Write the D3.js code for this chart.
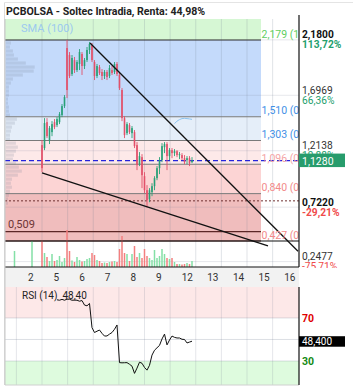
<!DOCTYPE html>
<html>
<head>
<meta charset="utf-8">
<script src="https://cdn.jsdelivr.net/npm/d3@7"></script>
<style>
  body { margin: 0; background: #fff; }
  svg { display: block; font-family: Roboto, "Noto Sans", sans-serif; }
</style>
</head>
<body>
<div id="chart"></div>
<script>
// ---- data ----
const title = "PCBOLSA - Soltec Intradia, Renta: 44,98%";
const days = ["2", "5", "6", "7", "8", "9", "12", "13", "14", "15", "16"];

// intraday candles [open, high, low, close]
const candles = [
  [1.263, 1.306, 1.027, 1.062], [1.237, 1.498, 1.219, 1.455], [1.463, 1.498, 1.324, 1.341],
  [1.306, 1.429, 1.272, 1.411], [1.376, 1.472, 1.341, 1.446], [1.463, 1.490, 1.402, 1.420],
  [1.437, 1.507, 1.420, 1.490], [1.463, 1.551, 1.446, 1.533], [1.525, 1.621, 1.507, 1.603],
  [1.603, 1.699, 1.586, 1.682], [2.109, 2.180, 1.673, 1.743], [2.048, 2.074, 1.847, 1.865],
  [1.882, 2.048, 1.865, 2.022], [2.004, 2.031, 1.891, 1.917], [1.917, 2.004, 1.900, 1.987],
  [1.970, 2.100, 1.917, 2.074], [2.057, 2.074, 1.874, 1.952], [1.952, 2.022, 1.926, 2.004],
  [2.004, 2.118, 1.987, 2.092], [2.092, 2.162, 2.057, 2.144], [2.135, 2.153, 1.987, 2.004],
  [1.987, 2.004, 1.830, 1.865], [1.865, 1.970, 1.847, 1.952], [1.943, 1.961, 1.874, 1.891],
  [1.900, 1.926, 1.830, 1.865], [1.865, 1.917, 1.839, 1.900], [1.900, 1.917, 1.830, 1.856],
  [1.865, 1.961, 1.847, 1.935], [1.917, 1.952, 1.874, 1.891], [1.900, 1.987, 1.882, 1.970],
  [1.970, 1.987, 1.865, 1.882], [1.874, 1.900, 1.743, 1.760], [1.743, 1.760, 1.472, 1.498],
  [1.498, 1.516, 1.324, 1.350], [1.367, 1.463, 1.350, 1.446], [1.437, 1.455, 1.359, 1.376],
  [1.367, 1.429, 1.324, 1.411], [1.376, 1.394, 1.237, 1.254], [1.263, 1.289, 1.045, 1.088],
  [1.097, 1.202, 1.080, 1.167], [1.158, 1.184, 0.888, 1.001], [0.992, 1.027, 0.844, 0.870],
  [0.870, 0.914, 0.722, 0.783], [0.792, 0.888, 0.765, 0.870], [0.853, 0.931, 0.818, 0.905],
  [0.905, 0.992, 0.870, 0.975], [0.975, 1.080, 0.957, 1.062], [1.062, 1.158, 1.010, 1.132],
  [1.132, 1.280, 1.114, 1.254], [1.245, 1.289, 1.193, 1.272], [1.272, 1.289, 1.045, 1.167],
  [1.167, 1.237, 1.132, 1.219], [1.219, 1.237, 1.149, 1.193], [1.193, 1.228, 1.167, 1.210],
  [1.210, 1.219, 1.158, 1.176], [1.176, 1.202, 1.141, 1.184], [1.176, 1.193, 1.132, 1.149],
  [1.149, 1.176, 1.097, 1.114], [1.132, 1.167, 1.097, 1.149], [1.149, 1.167, 1.080, 1.106],
  [1.114, 1.158, 1.106, 1.128]
];

// volume (thousands), first entry belongs to slot -11
const volumeStart = -11;
const volumes = [
  160, 0, 0, 0, 0, 0, 0, 260, 0, 0, 0,
  265, 140, 100, 60, 130, 60, 70, 110, 50, 90,
  370, 160, 65, 50, 100, 70, 55, 60, 80, 90,
  140, 120, 70, 60, 40, 45, 40, 50, 55, 60,
  50, 180, 310, 140, 130, 60, 130, 210, 100, 140,
  90, 180, 110, 90, 70, 170, 90, 110, 180, 130,
  90, 80, 90, 50, 30, 30, 25, 30, 40, 30, 60
];

// RSI(14), first value belongs to candle 6
const rsiStart = 6;
const rsiValues = [
  86.9, 86.5, 87.3, 86.5, 87.5, 87.4, 86.5, 86.6, 86.5, 85.6, 86.2, 82.0, 81.3, 83.5,
  61.0, 56.5, 57.7, 58.8, 55.7, 53.2, 53.3, 55.0, 56.5, 59.5, 63.5,
  28.5, 28.3, 28.4, 28.5, 27.0, 25.2, 18.5, 23.4, 28.9, 27.9, 24.0, 21.5, 26.0,
  35.5, 40.0, 42.3, 44.5, 50.5, 55.0, 45.0, 49.5, 53.2, 52.0, 51.4, 51.4, 50.2,
  50.0, 46.8, 47.6, 48.4
];

// SMA(100), first value belongs to candle 53
const smaStart = 53;
const smaValues = [1.450, 1.472, 1.485, 1.494, 1.496, 1.494, 1.491, 1.487];

// volume profile [price, volume]
const profile = [
  [2.153, 15], [2.118, 12], [2.083, 21], [2.048, 24], [2.013, 36], [1.978, 60],
  [1.943, 87], [1.908, 84], [1.874, 51], [1.839, 21], [1.804, 15], [1.769, 9],
  [1.734, 9], [1.699, 9], [1.664, 6], [1.629, 6], [1.594, 9], [1.559, 9],
  [1.524, 12], [1.489, 33], [1.455, 27], [1.420, 18], [1.385, 15], [1.350, 12],
  [1.315, 12], [1.280, 30], [1.245, 36], [1.210, 30], [1.176, 24], [1.141, 21],
  [1.106, 30], [1.071, 39], [1.036, 48], [1.001, 36], [0.966, 18], [0.931, 15],
  [0.896, 18], [0.861, 12], [0.826, 9], [0.792, 6], [0.757, 6]
];

const fibLevels = [2.179, 1.510, 1.303, 1.096, 0.840, 0.427];
const fibRatios = ["1,000", "0,618", "0,500", "0,382", "0,236", "0,000"];
const fibEnd = 87.6; // slot where the fibonacci drawing stops
const supportLevel = 0.509;
const dottedLevel = 0.777;
const lastPrice = 1.128;
const lastRsi = 48.40;

const priceTicks = [2.18, 1.6969, 1.2138, 0.722, 0.2477];
const pctTicks = ["113,72%", "66,36%", "19,88%", "-29,21%", "-75,71%"];

// trend lines [slot, price]
const trendDown = [[19.2, 2.153], [102.4, 0.338]];
const trendLow = [[0, 1.021], [90.4, 0.384]];

// ---- layout ----
const W = 353, H = 390;
const plot = { left: 5, right: 299, top: 19 };
const vol = { top: 241, bottom: 267 };
const rsiBox = { top: 287, bottom: 385 };
const slotsPerDay = 10.25, firstDaySlot = -10.25;

const green = "#27a077", red = "#e2506a";
const volGreen = "#84e0a6", volRed = "#f47f7f";
const fmt = (v, d) => v.toFixed(d).replace(".", ",");

const svg = d3.select("#chart").append("svg").attr("width", W).attr("height", H);
const defs = svg.append("defs");

// scales
const x = d3.scaleLinear().domain([-14.8, 102.8]).range([plot.left, plot.right]);
const y = d3.scaleLinear().domain([fibLevels[0], fibLevels[fibLevels.length - 1]]).range([40, vol.top]);
const vy = d3.scaleLinear().domain([0, 260]).range([vol.bottom, vol.top]);
const ry = d3.scaleLinear().domain([7.7, 98.8]).range([rsiBox.bottom, rsiBox.top]);
const pw = d3.scaleLinear().domain([0, 100]).range([0, 33]);

const daySlots = days.map((d, k) => firstDaySlot + k * slotsPerDay);

svg.append("rect").attr("width", W).attr("height", H).attr("fill", "#fff");

// frame
svg.append("line").attr("x1", 4.5).attr("x2", 4.5).attr("y1", 2.5).attr("y2", rsiBox.bottom)
  .attr("stroke", "#dcdcdc");
svg.append("line").attr("x1", 4.5).attr("x2", W).attr("y1", 2.5).attr("y2", 2.5)
  .attr("stroke", "#e4e4e4");

// title
svg.append("text").attr("x", 6).attr("y", 15)
  .attr("font-size", 10.6).attr("font-weight", "bold").attr("fill", "#222")
  .text(title);

// x-axis strip
svg.append("rect").attr("x", plot.left).attr("y", vol.bottom)
  .attr("width", plot.right - plot.left).attr("height", rsiBox.top - vol.bottom)
  .attr("fill", "#f2f2f2");

// ---- main panel ----
defs.append("clipPath").attr("id", "mainClip").append("rect")
  .attr("x", plot.left).attr("y", plot.top)
  .attr("width", plot.right - plot.left).attr("height", vol.bottom + 26 - plot.top);
const main = svg.append("g").attr("clip-path", "url(#mainClip)");

// fibonacci bands
const bandColors = ["#d6f7d4", "#c4dafb", "#e5eef9", "#fde9e9", "#fcd4d4", "#f0bdbd"];
const bandEdges = [y.invert(plot.top), ...fibLevels];
main.selectAll("rect.band")
  .data(d3.pairs(bandEdges))
  .join("rect")
  .attr("class", "band")
  .attr("x", plot.left)
  .attr("width", x(fibEnd) - plot.left)
  .attr("y", d => y(d[0]))
  .attr("height", d => y(d[1]) - y(d[0]))
  .attr("fill", (d, i) => bandColors[i]);

// grid
main.selectAll("line.vgrid")
  .data(daySlots.slice(1))
  .join("line")
  .attr("x1", d => x(d)).attr("x2", d => x(d))
  .attr("y1", plot.top).attr("y2", vol.bottom)
  .attr("stroke", "rgba(120,130,150,0.22)");
main.selectAll("line.hgrid")
  .data(priceTicks)
  .join("line")
  .attr("x1", plot.left).attr("x2", plot.right)
  .attr("y1", d => y(d)).attr("y2", d => y(d))
  .attr("stroke", "rgba(120,130,150,0.18)");

// volume profile
const binH = Math.abs(y(profile[1][0]) - y(profile[0][0]));
main.selectAll("rect.profile")
  .data(profile)
  .join("rect")
  .attr("x", plot.left + 1)
  .attr("y", d => y(d[0]) - binH / 2 + 0.4)
  .attr("width", d => pw(d[1]))
  .attr("height", binH - 0.8)
  .attr("fill", "rgba(120,130,150,0.2)");

// fibonacci lines
const fibStroke = ["#333", "#7a7a7a", "#7a7a7a", "#7a7a7a", "#7a7a7a", "#5a2a2a"];
main.selectAll("line.fib")
  .data(fibLevels)
  .join("line")
  .attr("x1", plot.left).attr("x2", x(fibEnd))
  .attr("y1", d => y(d)).attr("y2", d => y(d))
  .attr("stroke", (d, i) => fibStroke[i]).attr("stroke-width", 1);

// support 0,509
main.append("line")
  .attr("x1", plot.left).attr("x2", x(fibEnd))
  .attr("y1", y(supportLevel)).attr("y2", y(supportLevel))
  .attr("stroke", "#5b2626").attr("stroke-width", 1.2);
main.append("text")
  .attr("x", 8).attr("y", y(supportLevel) - 4)
  .attr("font-size", 11).attr("fill", "#6e3535")
  .text(fmt(supportLevel, 3));

// dotted level
main.append("line")
  .attr("x1", plot.left).attr("x2", plot.right)
  .attr("y1", y(dottedLevel)).attr("y2", y(dottedLevel))
  .attr("stroke", "#6e3030").attr("stroke-dasharray", "2,2");

// SMA label + line
main.append("text")
  .attr("x", 21).attr("y", 32)
  .attr("font-size", 11).attr("fill", "#9cc9ef")
  .text("SMA (100)");
main.append("path")
  .datum(smaValues)
  .attr("fill", "none").attr("stroke", "#8cc4f0").attr("stroke-width", 1)
  .attr("d", d3.line().x((d, i) => x(smaStart + i)).y(d => y(d)));

// current price line
main.append("line")
  .attr("x1", plot.left).attr("x2", plot.right)
  .attr("y1", y(lastPrice)).attr("y2", y(lastPrice))
  .attr("stroke", "#2424dd").attr("stroke-width", 1.2).attr("stroke-dasharray", "5,3");

// candles
const candle = main.selectAll("g.candle")
  .data(candles)
  .join("g")
  .attr("class", "candle");
candle.append("line")
  .attr("x1", (d, i) => x(i)).attr("x2", (d, i) => x(i))
  .attr("y1", d => y(d[1])).attr("y2", d => y(d[2]))
  .attr("stroke", d => d[3] >= d[0] ? green : red).attr("stroke-width", 0.9);
candle.append("rect")
  .attr("x", (d, i) => x(i) - 0.8)
  .attr("width", 1.6)
  .attr("y", d => y(Math.max(d[0], d[3])))
  .attr("height", d => Math.max(1, Math.abs(y(d[0]) - y(d[3]))))
  .attr("fill", d => d[3] >= d[0] ? green : red);

// trend lines
[trendDown, trendLow].forEach(t => {
  main.append("line")
    .attr("x1", x(t[0][0])).attr("y1", y(t[0][1]))
    .attr("x2", x(t[1][0])).attr("y2", y(t[1][1]))
    .attr("stroke", "#111").attr("stroke-width", 1.3);
});

// fibonacci labels
const fibLabelColors = ["#5fce5f", "#3f8fe6", "#3f8fe6", "#f5a5a5", "#f28a8a", "#f28a8a"];
main.selectAll("text.fib")
  .data(fibLevels)
  .join("text")
  .attr("x", x(fibEnd) + 0.5)
  .attr("y", d => y(d) - 2.5)
  .attr("font-size", 10.5)
  .attr("fill", (d, i) => fibLabelColors[i])
  .text((d, i) => `${fmt(d, 3)} (${fibRatios[i]})`);

// ---- volume panel ----
const volData = volumes.map((v, k) => ({ slot: volumeStart + k, v }));
svg.append("g").selectAll("rect")
  .data(volData.filter(d => d.v > 0))
  .join("rect")
  .attr("x", d => x(d.slot) - 0.75)
  .attr("width", 1.5)
  .attr("y", d => vy(d.v))
  .attr("height", d => vy(0) - vy(d.v))
  .attr("fill", d => {
    const c = candles[d.slot];
    if (!c) return volGreen;
    return c[3] >= c[0] ? volGreen : volRed;
  });
svg.selectAll("line.vbord")
  .data([vol.top, vol.bottom])
  .join("line")
  .attr("x1", plot.left).attr("x2", plot.right)
  .attr("y1", d => d).attr("y2", d => d)
  .attr("stroke", "#111").attr("stroke-width", 1.2);

// x axis labels
svg.selectAll("text.xlab")
  .data(days)
  .join("text")
  .attr("x", (d, k) => x(daySlots[k]) + 11.5)
  .attr("y", 281)
  .attr("font-size", 10).attr("fill", "#333")
  .text(d => d);

// ---- right axis ----
svg.append("line").attr("x1", plot.right).attr("x2", plot.right)
  .attr("y1", 15).attr("y2", vol.bottom)
  .attr("stroke", "#111").attr("stroke-width", 1.2);

defs.append("clipPath").attr("id", "axisClip").append("rect")
  .attr("x", plot.right).attr("y", 0).attr("width", W - plot.right).attr("height", vol.bottom + 1);
const axisG = svg.append("g").attr("clip-path", "url(#axisClip)");
const hi = d3.max(candles, d => d[1]), lo = d3.min(candles, d => d[2]);
priceTicks.forEach((t, i) => {
  const strong = t === hi || t === lo;
  axisG.append("text")
    .attr("x", plot.right + 3).attr("y", y(t) - 1.5)
    .attr("font-size", 10.2).attr("font-weight", strong ? "bold" : "normal")
    .attr("fill", strong ? "#111" : "#333")
    .text(fmt(t, 4));
  axisG.append("text")
    .attr("x", plot.right + 3).attr("y", y(t) + 8.5)
    .attr("font-size", 10.2).attr("font-weight", strong ? "bold" : "normal")
    .attr("fill", pctTicks[i].startsWith("-") ? "#f04a4a" : "#23a06c")
    .text(pctTicks[i]);
});
axisG.append("rect")
  .attr("x", plot.right).attr("y", y(lastPrice) - 7)
  .attr("width", 46).attr("height", 13.5)
  .attr("fill", "#279c6c");
axisG.append("text")
  .attr("x", plot.right + 3).attr("y", y(lastPrice) + 4)
  .attr("font-size", 10.5).attr("fill", "#fff")
  .text(fmt(lastPrice, 4));

// ---- RSI panel ----
const rsiG = svg.append("g");
rsiG.append("rect").attr("x", plot.left).attr("width", plot.right - plot.left)
  .attr("y", rsiBox.top).attr("height", ry(70) - rsiBox.top).attr("fill", "#fde8e8");
rsiG.append("rect").attr("x", plot.left).attr("width", plot.right - plot.left)
  .attr("y", ry(30)).attr("height", rsiBox.bottom - ry(30)).attr("fill", "#defbde");
rsiG.selectAll("line.rv")
  .data(daySlots)
  .join("line")
  .attr("x1", d => x(d)).attr("x2", d => x(d))
  .attr("y1", rsiBox.top).attr("y2", rsiBox.bottom)
  .attr("stroke", "rgba(120,130,150,0.2)");
rsiG.selectAll("line.rh")
  .data([70, 50, 30])
  .join("line")
  .attr("x1", plot.left).attr("x2", plot.right)
  .attr("y1", d => ry(d)).attr("y2", d => ry(d))
  .attr("stroke", "rgba(120,130,150,0.25)");
rsiG.append("line").attr("x1", plot.left).attr("x2", plot.right)
  .attr("y1", rsiBox.bottom).attr("y2", rsiBox.bottom).attr("stroke", "#d0d0d0");
rsiG.append("path")
  .datum(rsiValues)
  .attr("fill", "none").attr("stroke", "#111").attr("stroke-width", 1)
  .attr("d", d3.line().x((d, i) => x(rsiStart + i)).y(d => ry(d)));
rsiG.append("text")
  .attr("x", 22).attr("y", 299)
  .attr("font-size", 10).attr("fill", "#222")
  .attr("xml:space", "preserve")
  .text(`RSI (14)  ${fmt(lastRsi, 2)}`);
rsiG.append("line").attr("x1", plot.right).attr("x2", plot.right)
  .attr("y1", rsiBox.top).attr("y2", rsiBox.bottom)
  .attr("stroke", "#111").attr("stroke-width", 1.2);
[[70, "#e00000"], [30, "#138a13"]].forEach(([v, c]) => {
  rsiG.append("text")
    .attr("x", plot.right + 3).attr("y", ry(v) + 4)
    .attr("font-size", 10.5).attr("font-weight", "bold").attr("fill", c)
    .text(v);
});
rsiG.append("rect")
  .attr("x", plot.right).attr("y", ry(lastRsi) - 5)
  .attr("width", 46).attr("height", 10.5).attr("fill", "#000");
rsiG.append("text")
  .attr("x", plot.right + 3).attr("y", ry(lastRsi) + 4)
  .attr("font-size", 10).attr("fill", "#fff")
  .text(fmt(lastRsi, 3));

// left edge
svg.append("line").attr("x1", plot.left).attr("x2", plot.left)
  .attr("y1", plot.top).attr("y2", rsiBox.bottom)
  .attr("stroke", "#c8c8c8");
</script>
</body>
</html>
